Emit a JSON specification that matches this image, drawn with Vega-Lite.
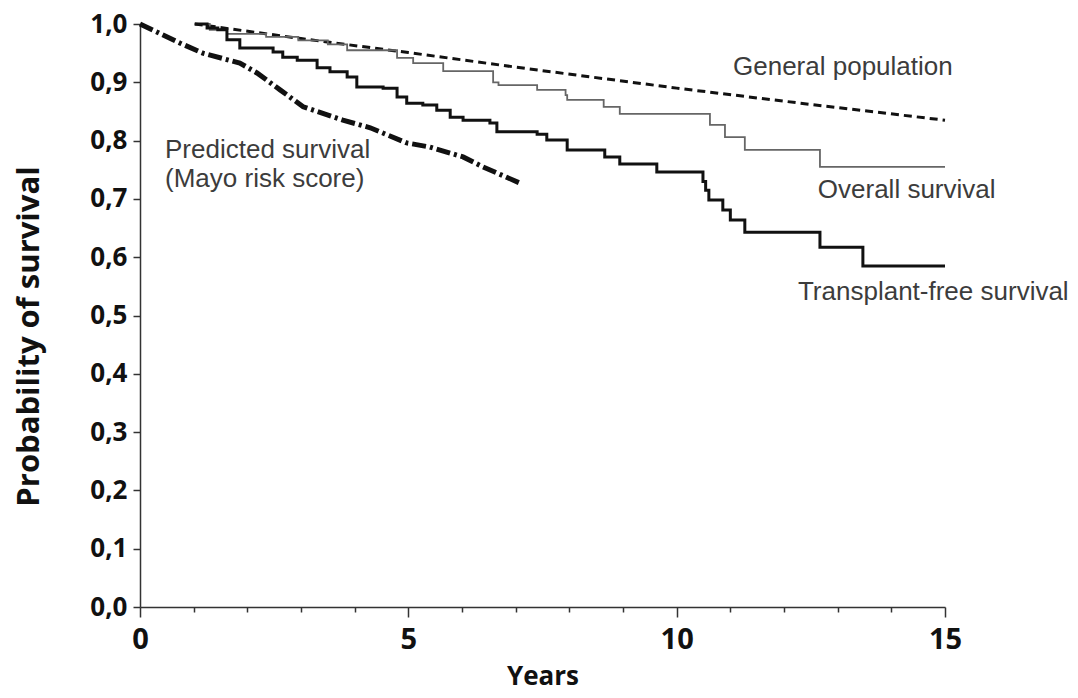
{
  "$schema": "https://vega.github.io/schema/vega-lite/v6.json",
  "autosize": "none",
  "width": 805,
  "height": 583,
  "padding": {"left": 140, "top": 24, "right": 133, "bottom": 91},
  "background": "white",
  "config": {
    "view": {"stroke": null},
    "axis": {"grid": false, "domainColor": "#333", "tickColor": "#333", "domainWidth": 1.5, "tickWidth": 1.5, "labelColor": "#111", "titleColor": "#111", "labelFont": "Open Sans", "titleFont": "Open Sans", "labelFontWeight": "bold", "titleFontWeight": "bold"}
  },
  "datasets": {
    "general": [
      {"year": 1.02, "p": 1.0}, {"year": 3, "p": 0.975}, {"year": 5, "p": 0.951}, {"year": 7, "p": 0.926}, {"year": 10, "p": 0.89}, {"year": 12.5, "p": 0.862}, {"year": 15, "p": 0.835}
    ],
    "predicted": [
      {"year": 0.0, "p": 1.0}, {"year": 0.75, "p": 0.967}, {"year": 1.17, "p": 0.95}, {"year": 1.86, "p": 0.933}, {"year": 2.18, "p": 0.916}, {"year": 2.61, "p": 0.887}, {"year": 3.04, "p": 0.858}, {"year": 3.78, "p": 0.835}, {"year": 4.29, "p": 0.822}, {"year": 4.97, "p": 0.796}, {"year": 5.4, "p": 0.789}, {"year": 6.02, "p": 0.772}, {"year": 6.39, "p": 0.755}, {"year": 7.08, "p": 0.727}
    ],
    "overall": [
      {"year": 1.02, "p": 1.0}, {"year": 1.3, "p": 0.99}, {"year": 1.62, "p": 0.983}, {"year": 2.35, "p": 0.978}, {"year": 2.95, "p": 0.972}, {"year": 3.5, "p": 0.965}, {"year": 3.86, "p": 0.955}, {"year": 4.79, "p": 0.942}, {"year": 5.09, "p": 0.933}, {"year": 5.65, "p": 0.919}, {"year": 6.58, "p": 0.9}, {"year": 6.68, "p": 0.895}, {"year": 7.4, "p": 0.887}, {"year": 7.93, "p": 0.878}, {"year": 7.96, "p": 0.87}, {"year": 8.64, "p": 0.858}, {"year": 8.94, "p": 0.846}, {"year": 10.62, "p": 0.827}, {"year": 10.9, "p": 0.806}, {"year": 11.27, "p": 0.784}, {"year": 12.67, "p": 0.755}, {"year": 15, "p": 0.755}
    ],
    "transplant": [
      {"year": 1.02, "p": 1.0}, {"year": 1.25, "p": 0.993}, {"year": 1.45, "p": 0.99}, {"year": 1.62, "p": 0.973}, {"year": 1.86, "p": 0.959}, {"year": 2.48, "p": 0.952}, {"year": 2.66, "p": 0.943}, {"year": 2.93, "p": 0.938}, {"year": 3.3, "p": 0.925}, {"year": 3.54, "p": 0.918}, {"year": 3.86, "p": 0.909}, {"year": 4.04, "p": 0.892}, {"year": 4.53, "p": 0.89}, {"year": 4.79, "p": 0.875}, {"year": 4.97, "p": 0.864}, {"year": 5.27, "p": 0.861}, {"year": 5.53, "p": 0.852}, {"year": 5.78, "p": 0.84}, {"year": 6.02, "p": 0.835}, {"year": 6.52, "p": 0.83}, {"year": 6.65, "p": 0.815}, {"year": 7.4, "p": 0.811}, {"year": 7.58, "p": 0.801}, {"year": 7.96, "p": 0.784}, {"year": 8.66, "p": 0.772}, {"year": 8.94, "p": 0.76}, {"year": 9.63, "p": 0.746}, {"year": 10.49, "p": 0.73}, {"year": 10.54, "p": 0.715}, {"year": 10.6, "p": 0.698}, {"year": 10.86, "p": 0.681}, {"year": 11.0, "p": 0.664}, {"year": 11.27, "p": 0.643}, {"year": 12.67, "p": 0.617}, {"year": 13.47, "p": 0.585}, {"year": 15, "p": 0.585}
    ],
    "labels": [
      {"year": 11.05, "p": 0.9125, "text": "General population"},
      {"year": 0.466, "p": 0.77, "text": "Predicted survival"},
      {"year": 0.466, "p": 0.72, "text": "(Mayo risk score)"},
      {"year": 12.63, "p": 0.7015, "text": "Overall survival"},
      {"year": 12.26, "p": 0.5266, "text": "Transplant-free survival"}
    ]
  },
  "encoding": {
    "x": {"field": "year", "type": "quantitative", "scale": {"domain": [0, 15], "nice": false, "zero": false},
      "axis": {"title": "Years", "values": [0,1,2,3,4,5,6,7,8,9,10,11,12,13,14,15], "labelExpr": "datum.value % 5 === 0 ? datum.label : ''", "labelFontSize": 29, "titleFontSize": 26, "labelPadding": 8, "titlePadding": 9, "tickSize": {"condition": {"test": "datum.value % 5 === 0", "value": 10}, "value": 5}, "labelFlush": false}},
    "y": {"field": "p", "type": "quantitative", "scale": {"domain": [0, 1], "nice": false},
      "axis": {"title": "Probability of survival", "values": [0,0.1,0.2,0.3,0.4,0.5,0.6,0.7,0.8,0.9,1.0], "format": ".1f", "labelExpr": "replace(datum.label, '.', ',')", "labelFontSize": 26, "titleFontSize": 31, "tickSize": 7, "labelPadding": 6, "titlePadding": 44, "titleY": 312}}
  },
  "layer": [
    {"data": {"name": "general"}, "mark": {"type": "line", "color": "#111", "strokeWidth": 3, "strokeDash": [8, 5]}},
    {"data": {"name": "overall"}, "mark": {"type": "line", "color": "#666", "strokeWidth": 1.8, "interpolate": "step-after"}},
    {"data": {"name": "transplant"}, "mark": {"type": "line", "color": "#111", "strokeWidth": 3, "interpolate": "step-after"}},
    {"data": {"name": "predicted"}, "mark": {"type": "line", "color": "#111", "strokeWidth": 5, "strokeDash": [14, 4, 3, 4]}},
    {"data": {"name": "labels"}, "mark": {"type": "text", "align": "left", "baseline": "alphabetic", "font": "Liberation Sans", "fontSize": 26, "color": "#3c3c3c"},
      "encoding": {"text": {"field": "text", "type": "nominal"}}}
  ]
}
